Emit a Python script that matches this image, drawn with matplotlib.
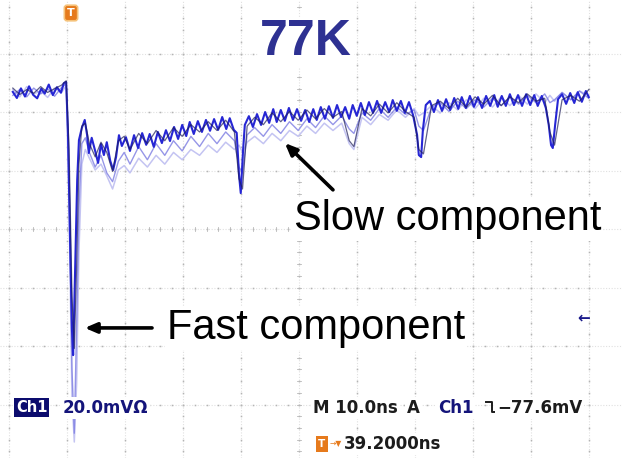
import numpy as np
import matplotlib.pyplot as plt
from matplotlib.lines import Line2D

# brightest sweep: time after trigger (ns) and amplitude (mV)
t_main = [-10.2, -9.5, -8.8, -8.1, -7.4, -6.7, -6.0, -5.3, -4.7, -4.0, -3.3, -2.6, -1.9, -1.4, -1.0,
          -0.7, -0.3, 0.0, 0.2, 0.5, 0.9, 1.2, 1.7, 2.2, 2.6, 2.9, 3.4, 4.0, 4.5, 5.0, 5.5, 6.0,
          6.6, 7.1, 7.6, 8.1, 8.6, 9.3, 10.0, 10.7, 11.4, 12.1, 12.8, 13.4, 14.1, 14.8, 15.5, 16.2,
          16.9, 17.6, 18.3, 19.0, 19.7, 20.3, 21.0, 21.7, 22.4, 23.1, 23.8, 24.5, 25.2, 25.9, 26.6,
          27.2, 27.9, 28.4, 28.8, 29.1, 29.5, 29.8, 30.5, 31.2, 31.9, 32.6, 33.3, 34.0, 34.7, 35.3,
          36.0, 36.7, 37.4, 38.1, 38.8, 39.5, 40.2, 40.9, 41.6, 42.2, 42.9, 43.6, 44.3, 45.0, 45.7,
          46.4, 47.1, 47.8, 48.4, 49.1, 49.8, 50.5, 51.2, 51.9, 52.6, 53.3, 54.0, 54.7, 55.3, 56.0,
          56.7, 57.4, 58.1, 58.8, 59.5, 59.8, 60.2, 60.5, 61.0, 61.7, 62.4, 63.1, 63.8, 64.5, 65.2,
          65.9, 66.6, 67.2, 67.9, 68.6, 69.3, 70.0, 70.7, 71.4, 72.1, 72.8, 73.4, 74.1, 74.8, 75.5,
          76.2, 76.9, 77.6, 78.3, 79.0, 79.7, 80.3, 81.0, 81.7, 82.2, 82.6, 82.9, 83.3, 83.8, 84.5,
          85.2, 85.9, 86.6, 87.2, 87.9, 88.6, 89.1]
v_main = [-0.3, -2.4, 0.9, -1.9, 1.6, -1.3, -2.5, 0.8, -0.9, 2.2, -1.4, 1.3, -0.6, 2.7, 3.1,
          -13.3, -54.4, -81.7, -90.3, -64.6, -30.4, -16.8, -12.6, -9.9, -15.0, -21.2, -16.0, -20.5,
          -24.6, -18.1, -21.9, -17.5, -23.9, -27.0, -22.6, -15.1, -18.8, -15.8, -20.5, -15.1, -19.5,
          -14.4, -18.4, -14.7, -19.1, -14.0, -17.8, -13.4, -17.1, -12.3, -16.4, -11.6, -15.4, -10.6,
          -14.7, -10.3, -14.0, -9.9, -13.6, -9.6, -13.3, -8.9, -13.0, -9.3, -13.3, -14.3, -28.7,
          -34.9, -20.2, -11.6, -8.6, -12.3, -7.9, -11.6, -7.2, -10.9, -6.2, -10.6, -6.5, -10.2, -5.8,
          -9.9, -6.2, -10.2, -6.5, -10.6, -6.2, -9.9, -5.5, -9.5, -5.2, -9.2, -4.8, -8.9, -5.5, -9.5,
          -4.8, -8.5, -4.1, -8.2, -3.8, -7.5, -3.4, -7.5, -3.8, -7.2, -3.1, -6.8, -3.4, -7.5, -3.8,
          -8.2, -15.0, -21.9, -22.6, -13.3, -4.8, -3.4, -7.2, -3.1, -6.8, -2.8, -6.5, -2.4, -6.1,
          -2.1, -5.8, -1.7, -5.4, -2.1, -5.8, -1.7, -5.1, -1.4, -5.4, -1.7, -5.1, -1.1, -4.8, -1.4,
          -5.1, -1.1, -4.8, -1.4, -5.1, -1.7, -5.8, -11.6, -18.5, -19.5, -11.6, -2.8, -1.1, -4.4,
          -0.7, -4.1, -0.4, -3.7, 0.0, -2.1]

# three fainter persistence sweeps on a shared time base (ns)
t_aux = [-10.2, -9.0, -7.8, -6.6, -5.4, -4.2, -3.0, -1.8, -1.0,
         -0.5, 0.0, 0.4, 0.8, 1.2, 1.7, 2.3,
         3.0, 4.0, 5.0, 6.0, 7.0, 8.0, 9.0, 10.0, 11.5, 13.0, 14.5, 16.0, 17.5, 19.0, 20.5,
         22.0, 23.5, 25.0, 26.5, 28.0, 28.8, 29.4, 30.2, 31.5, 33.0, 34.5, 36.0, 37.5, 39.0,
         40.5, 42.0, 43.5, 45.0, 46.5, 47.8, 48.6, 50.0, 51.5, 53.0, 54.5, 56.0, 57.5, 59.0,
         59.8, 60.6, 62.0, 63.5, 65.0, 66.5, 68.0, 69.5, 71.0, 72.5, 74.0, 75.5, 77.0, 78.5,
         80.0, 81.5, 82.4, 83.2, 84.5, 86.0, 87.5, 89.1]
v_navy = [1.0, -1.2, 0.5, -0.8, 1.5, -0.5, 0.8, 2.0, 3.5,
          -20.0, -70.0, -88.0, -60.0, -25.0, -12.0, -11.0,
          -18.0, -22.5, -17.5, -21.0, -27.5, -17.0, -15.5, -20.0, -14.5, -18.0, -13.5, -17.0,
          -12.5, -15.5, -11.5, -14.0, -10.5, -13.5, -10.0, -14.0, -30.0, -33.5, -12.0, -9.0,
          -11.5, -7.5, -10.5, -7.0, -10.0, -6.5, -9.5, -6.0, -9.0, -7.0, -17.0, -19.0, -6.0,
          -8.5, -4.5, -7.5, -4.0, -7.0, -9.0, -20.0, -21.5, -5.0, -3.5, -6.0, -2.5, -5.5, -2.0,
          -4.5, -1.5, -5.0, -2.0, -4.0, -1.0, -3.5, -2.5, -14.0, -18.5, -3.0, -1.5, -3.5, 0.5]
v_mid = [-1.5, 0.5, -2.0, 1.0, -1.0, 0.8, -1.8, 1.2, 2.5,
         -30.0, -95.0, -117.0, -80.0, -40.0, -18.0, -16.0,
         -21.0, -26.0, -22.0, -28.0, -31.0, -24.0, -21.0, -25.0, -19.0, -23.5, -18.0, -22.0,
         -17.0, -20.5, -15.5, -19.0, -14.5, -18.0, -14.0, -17.0, -26.0, -28.0, -15.0, -12.5,
         -15.5, -11.5, -14.5, -10.5, -13.5, -9.5, -12.5, -8.5, -11.5, -8.5, -13.0, -14.5, -7.5,
         -10.0, -6.0, -9.0, -5.5, -8.0, -6.5, -12.0, -13.5, -5.5, -4.0, -7.0, -3.5, -6.0, -3.0,
         -5.5, -2.5, -5.0, -2.0, -4.5, -1.5, -4.0, -1.0, -4.0, -3.0, -0.5, -3.0, 0.0, -2.5]
v_pale = [0.5, -2.0, 1.5, -1.0, 0.0, -2.2, 1.0, -0.5, 1.8,
          -40.0, -105.0, -120.0, -100.0, -55.0, -25.0, -20.0,
          -23.0, -27.0, -25.0, -29.0, -33.5, -27.0, -25.5, -28.0, -23.0, -26.0, -22.0, -25.0,
          -21.0, -23.5, -20.0, -22.0, -18.5, -21.0, -17.5, -20.0, -18.5, -21.0, -17.5, -15.5,
          -18.0, -14.5, -17.0, -13.5, -15.5, -12.0, -14.5, -11.0, -13.5, -11.0, -18.0, -20.0,
          -9.0, -11.5, -8.0, -10.0, -6.5, -9.0, -6.0, -8.5, -7.5, -5.0, -7.5, -4.0, -6.5, -3.0,
          -6.0, -2.5, -5.5, -2.0, -5.0, -1.5, -4.5, -1.0, -4.0, -1.5, -3.5, -0.5, -3.0, 0.0, -1.5]

ns_per_div = 10.0
mv_per_div = 20.0
trig_pos = 39.2      # ns from trigger to screen centre
center_mv = -47.2    # level of the centre graticule line
trig_level = -77.6

W, H = 622, 458
fig = plt.figure(figsize=(W / 100, H / 100), dpi=100)
ax = fig.add_axes([0, 0, 1, 1])
ax.set_xlim(-12.41, 94.83)
ax.set_ylim(-125.47, 31.11)
ax.axis('off')


def fp(x, y):
    # pixel position -> figure fraction
    return x / W, 1 - y / H


# graticule
x_left = trig_pos - 5 * ns_per_div
xs = x_left + ns_per_div * np.arange(11)
ys = center_mv + mv_per_div * np.arange(-4, 5)
minor_x = x_left + 2.0 * np.arange(51)
minor_y = center_mv + 4.0 * np.arange(-20, 21)
for x in xs:
    ax.axvline(x, color='#e0e0e0', lw=0.8, ls=(0, (1, 1.5)), zorder=0)
    ax.plot([x] * len(minor_y), minor_y, ls='none', marker='s', ms=1.1,
            color='#b4b4b4', mec='none', zorder=0)
for y in ys:
    ax.axhline(y, color='#e0e0e0', lw=0.8, ls=(0, (1, 1.5)), zorder=0)
    ax.plot(minor_x, [y] * len(minor_x), ls='none', marker='s', ms=1.1,
            color='#b4b4b4', mec='none', zorder=0)
# tick marks on the centre cross
for y in minor_y:
    ax.plot([trig_pos - 0.35, trig_pos + 0.35], [y, y], color='#b8b8b8', lw=0.6, zorder=0)
for x in minor_x:
    ax.plot([x, x], [center_mv - 0.8, center_mv + 0.8], color='#b8b8b8', lw=0.6, zorder=0)

# sweeps, faintest first
ax.plot(t_aux, v_pale, color='#c4c4f2', lw=1.1, zorder=2)
ax.plot(t_aux, v_mid, color='#7c7ce2', lw=1.0, alpha=0.8, zorder=3)
ax.plot(t_main, v_main, color='#2626d4', lw=1.5, zorder=4)
ax.plot(t_aux, v_navy, color='#1e1e5a', lw=0.9, alpha=0.7, zorder=5)

# labels and arrows (white boxes hide the graticule behind them)
white = dict(boxstyle='square,pad=0.05', fc='white', ec='none')
fig.text(*fp(306, 55), '77K', fontsize=36, fontweight='bold', color='#2e3192',
         family='Liberation Sans', ha='center', va='baseline', bbox=white, zorder=7)
fig.text(*fp(294, 230), 'Slow component', fontsize=30, color='black',
         family='Liberation Sans', ha='left', va='baseline', bbox=white, zorder=7)
fig.text(*fp(167, 339), 'Fast component', fontsize=30, color='black',
         family='Liberation Sans', ha='left', va='baseline', bbox=white, zorder=7)
ax.annotate('', xy=(36.7, -17.8), xytext=(45.0, -33.8),
            arrowprops=dict(arrowstyle='-|>,head_length=0.7,head_width=0.3',
                            color='black', lw=2.6, shrinkA=0, shrinkB=0), zorder=6)
ax.annotate('', xy=(2.2, -81.0), xytext=(13.8, -81.0),
            arrowprops=dict(arrowstyle='-|>,head_length=0.7,head_width=0.3',
                            color='black', lw=2.6, shrinkA=0, shrinkB=0), zorder=6)

# trigger position flag at the top
fig.text(*fp(71, 13), 'T', fontsize=8, fontweight='bold', color='white', ha='center',
         va='center', bbox=dict(boxstyle='round,pad=0.25', fc='#e67a1c', ec='#f5c27a', lw=1.2))
# trigger level marker on the right edge
fig.text(*fp(584, 318), '\u2190', fontsize=11, fontweight='bold', color='#1a1a8a',
         ha='center', va='center')

# readouts
mono = 'DejaVu Sans'
ro = dict(boxstyle='square,pad=0.1', fc='white', ec='none')
fig.text(*fp(16, 412), 'Ch1', fontsize=10.5, fontweight='bold', color='white', family=mono,
         va='baseline', bbox=dict(boxstyle='square,pad=0.12', fc='#0c0c6e', ec='none'))
fig.text(*fp(63, 413), '20.0mV\u03a9', fontsize=12, fontweight='bold', color='#14147a',
         family=mono, va='baseline', bbox=ro)
fig.text(*fp(313, 413), 'M 10.0ns', fontsize=12, fontweight='bold', color='#1c1c1c',
         family=mono, va='baseline', bbox=ro)
fig.text(*fp(407, 413), 'A', fontsize=12, fontweight='bold', color='#1c1c1c',
         family=mono, va='baseline', bbox=ro)
fig.text(*fp(438, 413), 'Ch1', fontsize=12, fontweight='bold', color='#14147a',
         family=mono, va='baseline', bbox=ro)
fig.add_artist(Line2D([486 / W, 492 / W, 492 / W, 496 / W],
                      [1 - 402 / H, 1 - 402 / H, 1 - 412 / H, 1 - 412 / H],
                      color='#1c1c1c', lw=1.4))
fig.text(*fp(497, 413), f'\u2212{abs(trig_level):.1f}mV', fontsize=12, fontweight='bold',
         color='#1c1c1c', family=mono, va='baseline', bbox=ro)
fig.text(*fp(322, 444), 'T', fontsize=7.5, fontweight='bold', color='white', ha='center',
         va='center', bbox=dict(boxstyle='square,pad=0.25', fc='#e67a1c', ec='none'))
fig.text(*fp(330, 444), '\u2192\u25bc', fontsize=5.5, color='#e67a1c', va='center')
fig.text(*fp(344, 449), f'{trig_pos:.4f}ns', fontsize=12, fontweight='bold',
         color='#1c1c1c', family=mono, va='baseline', bbox=ro)

fig.savefig('out.png', dpi=100)
